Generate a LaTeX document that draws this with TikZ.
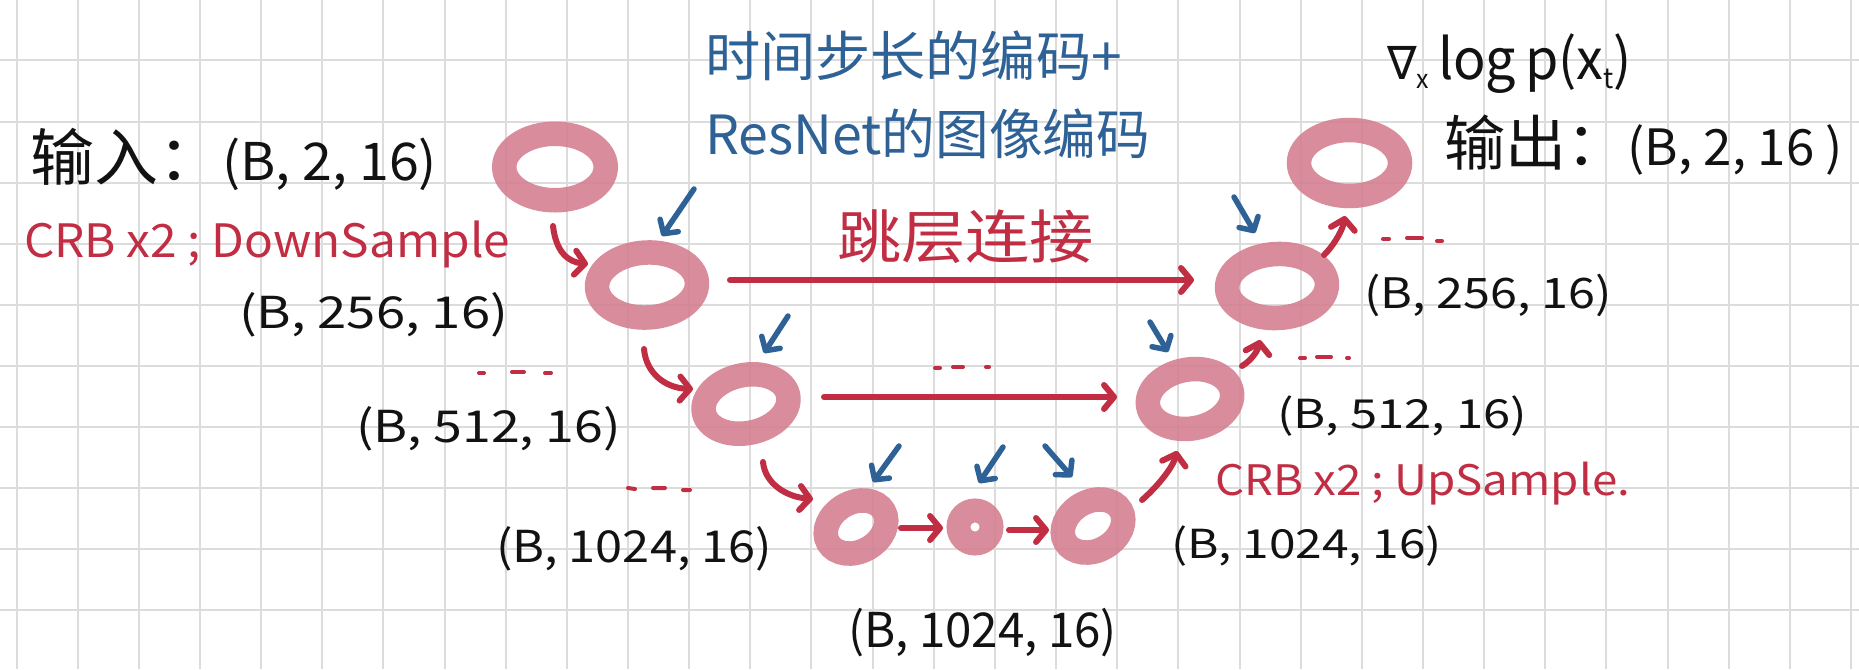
\documentclass[tikz,border=0pt]{standalone}
\usepackage{fontspec}
\usepackage{graphicx}
\setmainfont{Noto Sans CJK SC}
\newfontfamily\dejavu{DejaVu Sans}
\usetikzlibrary{shapes.geometric,arrows.meta,calc}
\definecolor{ringc}{RGB}{213,128,145}
\definecolor{penred}{RGB}{193,45,66}
\definecolor{penblue}{RGB}{46,98,150}
\definecolor{penblack}{RGB}{18,18,18}
\definecolor{gridc}{RGB}{220,220,220}
\newcommand\fs[1]{\fontsize{#1}{#1}\selectfont}
\newcommand\fitw[2]{\resizebox{#1}{\height}{#2}}
\begin{document}
\begin{tikzpicture}[x=1pt,y=-1pt,
  gridline/.style={draw=gridc, line width=2pt},
  ring/.style={ellipse, draw=ringc, draw opacity=0.9, line width=24.5pt, inner sep=0pt, outer sep=0pt},
  redarrow/.style={draw=penred, line width=6pt, line cap=round, line join=round, -{Straight Barb[length=10pt,width=24pt,round]}},
  bluearrow/.style={draw=penblue, line width=5.5pt, line cap=round, line join=round, -{Straight Barb[length=10pt,width=22pt,round]}},
  reddash/.style={draw=penred, line width=4pt, line cap=round},
  lbl/.style={inner sep=0pt, outer sep=0pt, anchor=base west}
]
\useasboundingbox (0,0) rectangle (1859,669);
\fill[white] (0,0) rectangle (1859,669);
% grid
\foreach \i in {0,...,30} \draw[gridline] ({16.5+61.15*\i},0) -- ({16.5+61.15*\i},669);
\foreach \j in {1,...,10} \draw[gridline] (0,{61*\j-0.5}) -- (1859,{61*\j-0.5});

% rings
\node[ring, minimum width=101.5pt, minimum height=66.5pt] (r1) at (555,167) {};
\node[ring, minimum width=100pt, minimum height=65pt, rotate=3] (r2) at (647,285) {};
\node[ring, minimum width=86pt, minimum height=58pt, rotate=12] (r3) at (746,404) {};
\node[ring, minimum width=64pt, minimum height=49pt, rotate=30] (r4) at (856,527) {};
\node[ring, minimum width=33pt, minimum height=33pt, line width=24pt] (r5) at (975,527) {};
\node[ring, minimum width=64pt, minimum height=49pt, rotate=30] (r6) at (1093,526) {};
\node[ring, minimum width=85pt, minimum height=59pt, rotate=10] (r7) at (1190,399) {};
\node[ring, minimum width=100pt, minimum height=64pt, rotate=3] (r8) at (1277,286) {};
\node[ring, minimum width=101pt, minimum height=66pt] (r9) at (1349.5,163) {};

% arrow end points
\coordinate (a1s) at (553,226); \coordinate (a1e) at (588,264);
\coordinate (a2s) at (644,349); \coordinate (a2e) at (693,389);
\coordinate (a3s) at (763,462); \coordinate (a3e) at (813,499);
\coordinate (a4s) at (901,528); \coordinate (a4e) at (943,528);
\coordinate (a5s) at (1009,530); \coordinate (a5e) at (1049,530);
\coordinate (a6s) at (1142,500); \coordinate (a6e) at (1177,451);
\coordinate (a7s) at (1242,366); \coordinate (a7e) at (1260,340);
\coordinate (a8s) at (1324,255); \coordinate (a8e) at (1345,216);
\coordinate (s1s) at (730,280); \coordinate (s1e) at (1194,280);
\coordinate (s2s) at (824,397); \coordinate (s2e) at (1117,397);

\draw[redarrow] (a1s) .. controls ($(a1s)+(3,26)$) and ($(a1e)+(-20,-2)$) .. (a1e);
\draw[redarrow] (a2s) .. controls ($(a2s)+(2,24)$) and ($(a2e)+(-28,-1)$) .. (a2e);
\draw[redarrow] (a3s) .. controls ($(a3s)+(2,22)$) and ($(a3e)+(-26,-2)$) .. (a3e);
\draw[redarrow] (a4s) -- (a4e);
\draw[redarrow] (a5s) -- (a5e);
\draw[redarrow] (a6s) .. controls ($(a6s)+(16,-14)$) and ($(a6e)+(-4,16)$) .. (a6e);
\draw[redarrow] (a7s) .. controls ($(a7s)+(10,-6)$) and ($(a7e)+(-2,10)$) .. (a7e);
\draw[redarrow] (a8s) .. controls ($(a8s)+(12,-12)$) and ($(a8e)+(-2,12)$) .. (a8e);
\draw[redarrow] (s1s) -- (s1e);
\draw[redarrow] (s2s) -- (s2e);

% blue arrows (time step + image encoding inputs)
\coordinate (b2s) at (694,189); \coordinate (b2e) at (662,236);
\coordinate (b3s) at (788,316); \coordinate (b3e) at (764,353);
\coordinate (b4s) at (899,446); \coordinate (b4e) at (873,482);
\coordinate (b5s) at (1003,447); \coordinate (b5e) at (979,483);
\coordinate (b6s) at (1045,446); \coordinate (b6e) at (1072,477);
\coordinate (b7s) at (1150,322); \coordinate (b7e) at (1168,352);
\coordinate (b8s) at (1234,197); \coordinate (b8e) at (1255,233);
\foreach \k in {2,...,8} \draw[bluearrow] (b\k s) -- (b\k e);

% red ellipsis marks
\draw[reddash] (1383,239) -- (1389,239) (1407,238) -- (1422,238) (1437,241) -- (1442,241);
\draw[reddash] (479,373) -- (484,373) (512,372) -- (524,372) (545,373) -- (551,373);
\draw[reddash] (935,368) -- (940,368) (953,367) -- (963,367) (986,367) -- (989,367);
\draw[reddash] (628,488) -- (635,489) (653,488) -- (665,488) (683,490) -- (690,490);
\draw[reddash] (1300,358) -- (1305,358) (1317,357) -- (1331,357) (1347,358) -- (1349,358);

% labels
\node[lbl, text=penblack] (tin) at (30,180) {\fitw{407pt}{\fs{52}{\fs{62}输入：}(B, 2, 16)}};
\node[lbl, text=penred] (tdown) at (24,257) {\fitw{486pt}{\fs{46}CRB x2 ; DownSample}};
\node[lbl, text=penblack] (t256l) at (239,328) {\fitw{269pt}{\fs{44}(B, 256, 16)}};
\node[lbl, text=penblack] (t512l) at (356,442) {\fitw{265pt}{\fs{44}(B, 512, 16)}};
\node[lbl, text=penblack] (t1024l) at (496,562) {\fitw{276pt}{\fs{44}(B, 1024, 16)}};
\node[lbl, text=penblack] (t1024b) at (848,647) {\fitw{269pt}{\fs{48}(B, 1024, 16)}};
\node[lbl, text=penblack] (t1024r) at (1171,558) {\fitw{271pt}{\fs{40}(B, 1024, 16)}};
\node[lbl, text=penred] (tup) at (1215,495) {\fitw{415pt}{\fs{42}CRB x2 ; UpSample.}};
\node[lbl, text=penblack] (t512r) at (1277,428) {\fitw{250pt}{\fs{40}(B, 512, 16)}};
\node[lbl, text=penblack] (t256r) at (1364,308) {\fitw{248pt}{\fs{42}(B, 256, 16)}};
\node[lbl, text=penblack] (tout) at (1444,165) {\fitw{399pt}{\fs{50}{\fs{60}输出：}(B, 2, 16 )}};
\node[lbl, text=penblack] (tgrad) at (1387,80) {\fitw{245pt}{\fs{56}{\dejavu\fs{46}∇}\raisebox{-9pt}{\fs{26}x}\,log\,p(x\raisebox{-8pt}{\fs{28}t})}};
\node[lbl, text=penblue] (tenc1) at (705,76) {\fitw{417pt}{\fs{54}时间步长的编码+}};
\node[lbl, text=penblue] (tenc2) at (705,154) {\fitw{445pt}{\fs{54}ResNet的图像编码}};
\node[lbl, text=penred] (tskip) at (837,258) {\fitw{257pt}{\fs{58}跳层连接}};
\end{tikzpicture}
\end{document}
